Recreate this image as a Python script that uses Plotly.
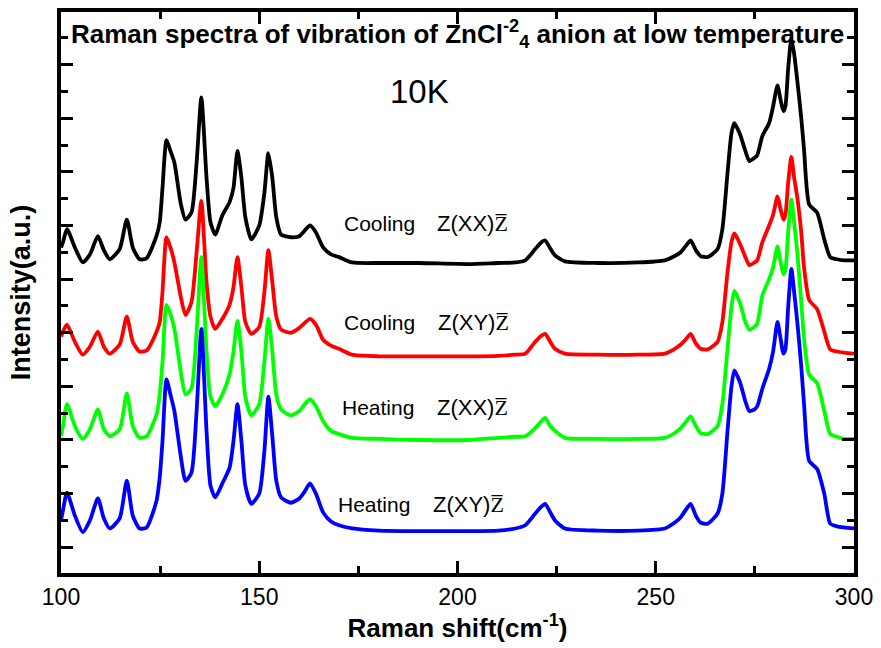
import plotly.graph_objects as go

# Raman shift (cm^-1)
raman_shift = [
    100.0, 100.5, 101.5, 103.5, 105.5, 107.3, 109.3, 110.8, 112.3, 114.8,
    116.6, 118.1, 119.8, 121.6, 124.1, 124.9, 125.6, 126.6, 127.6, 128.6,
    130.2, 131.4, 132.9, 134.2, 135.4, 136.7, 137.7, 138.9, 140.7, 142.5,
    143.5, 144.5, 145.5, 146.5, 148.0, 150.0, 151.3, 152.3, 153.3, 154.3,
    155.5, 158.0, 160.1, 161.3, 162.8, 164.3, 166.1, 168.1, 170.1, 173.4,
    180.2, 190.2, 202.8, 210.3, 214.6, 217.1, 219.6, 220.9, 222.1, 223.4,
    224.6, 227.1, 235.4, 245.5, 252.3, 254.8, 256.3, 257.5, 258.8, 260.1,
    261.3, 263.1, 265.6, 266.8, 268.1, 269.1, 269.8, 270.6, 271.4, 272.6,
    273.6, 274.9, 275.6, 276.9, 278.6, 279.6, 280.7, 281.4, 282.2, 282.7,
    283.4, 284.2, 284.9, 285.7, 286.7, 287.4, 288.7, 290.7, 292.5, 294.0,
    295.7, 297.5, 300.0,
]

# Intensities (a.u., stacked as plotted)
cooling_xx = [
    5.59, 5.69, 5.93, 5.59, 5.31, 5.46, 5.80, 5.54, 5.37, 5.56,
    6.11, 5.59, 5.37, 5.39, 5.81, 6.06, 6.70, 7.59, 7.39, 7.17,
    6.41, 6.11, 6.24, 7.17, 8.39, 6.89, 6.06, 5.83, 6.19, 6.43,
    6.70, 7.39, 6.89, 6.15, 5.74, 6.00, 6.61, 7.35, 6.89, 6.15,
    5.83, 5.78, 5.80, 5.89, 6.00, 5.87, 5.59, 5.46, 5.41, 5.31,
    5.30, 5.30, 5.28, 5.30, 5.31, 5.35, 5.56, 5.67, 5.72, 5.57,
    5.44, 5.33, 5.30, 5.31, 5.35, 5.43, 5.50, 5.61, 5.72, 5.54,
    5.43, 5.41, 5.56, 5.93, 6.98, 7.72, 7.91, 7.81, 7.67, 7.39,
    7.20, 7.26, 7.31, 7.67, 7.91, 8.22, 8.61, 8.37, 8.13, 8.22,
    8.93, 9.48, 9.20, 8.70, 8.00, 7.41, 6.39, 6.24, 5.74, 5.41,
    5.37, 5.35, 5.35,
]
cooling_xy = [
    3.93, 4.02, 4.15, 3.83, 3.59, 3.74, 4.02, 3.74, 3.61, 3.78,
    4.30, 3.83, 3.65, 3.67, 4.02, 4.20, 4.76, 5.78, 5.59, 5.31,
    4.67, 4.33, 4.57, 5.50, 6.46, 4.94, 4.30, 4.07, 4.26, 4.52,
    4.85, 5.41, 4.85, 4.20, 3.98, 4.11, 4.76, 5.54, 4.94, 4.30,
    4.06, 4.00, 4.09, 4.17, 4.26, 4.15, 3.87, 3.76, 3.70, 3.59,
    3.56, 3.56, 3.56, 3.57, 3.59, 3.61, 3.83, 3.93, 3.98, 3.83,
    3.70, 3.61, 3.59, 3.59, 3.61, 3.70, 3.78, 3.87, 3.98, 3.80,
    3.70, 3.69, 3.83, 4.20, 5.13, 5.69, 5.85, 5.76, 5.63, 5.41,
    5.26, 5.31, 5.35, 5.69, 6.00, 6.20, 6.54, 6.33, 6.11, 6.20,
    6.80, 7.28, 6.89, 6.52, 5.87, 5.22, 4.61, 4.44, 4.02, 3.69,
    3.65, 3.63, 3.61,
]
heating_xx = [
    2.07, 2.26, 2.67, 2.26, 2.02, 2.20, 2.57, 2.20, 2.07, 2.20,
    2.87, 2.26, 2.04, 2.07, 2.48, 2.85, 3.46, 4.52, 4.35, 4.07,
    3.28, 2.85, 2.96, 4.02, 5.41, 3.65, 2.81, 2.63, 2.85, 3.22,
    3.65, 4.22, 3.65, 2.81, 2.46, 2.67, 3.46, 4.26, 3.65, 2.85,
    2.57, 2.46, 2.54, 2.65, 2.76, 2.63, 2.35, 2.17, 2.11, 2.04,
    2.02, 2.00, 2.00, 2.04, 2.06, 2.07, 2.22, 2.33, 2.41, 2.26,
    2.17, 2.04, 2.02, 2.02, 2.04, 2.13, 2.22, 2.33, 2.44, 2.26,
    2.13, 2.11, 2.26, 2.67, 3.70, 4.48, 4.78, 4.67, 4.52, 4.20,
    4.06, 4.11, 4.17, 4.70, 5.00, 5.22, 5.61, 5.35, 5.09, 5.17,
    5.87, 6.48, 6.06, 5.50, 4.57, 3.89, 3.22, 3.06, 2.54, 2.11,
    2.06, 2.02, 2.02,
]
heating_xy = [
    0.50, 0.69, 1.02, 0.59, 0.28, 0.50, 0.91, 0.54, 0.35, 0.54,
    1.24, 0.59, 0.35, 0.37, 0.87, 1.30, 1.98, 3.13, 2.85, 2.54,
    1.70, 1.24, 1.39, 2.54, 4.07, 2.17, 1.15, 0.93, 1.19, 1.48,
    1.98, 2.67, 1.98, 1.15, 0.81, 1.00, 1.80, 2.81, 2.07, 1.24,
    0.93, 0.83, 0.91, 1.02, 1.19, 1.00, 0.65, 0.48, 0.41, 0.35,
    0.31, 0.30, 0.30, 0.31, 0.35, 0.41, 0.63, 0.74, 0.81, 0.65,
    0.50, 0.35, 0.31, 0.31, 0.35, 0.46, 0.56, 0.69, 0.81, 0.59,
    0.46, 0.44, 0.63, 1.00, 2.17, 3.00, 3.30, 3.19, 3.04, 2.72,
    2.54, 2.57, 2.63, 2.96, 3.33, 3.65, 4.20, 3.93, 3.61, 3.69,
    4.48, 5.19, 4.76, 4.20, 3.37, 2.67, 1.61, 1.46, 1.00, 0.44,
    0.39, 0.37, 0.35,
]

series_names = ["Cooling Z(XX)Z", "Cooling Z(XY)Z", "Heating Z(XX)Z", "Heating Z(XY)Z"]
series_values = [cooling_xx, cooling_xy, heating_xx, heating_xy]
series_colors = ["#000000", "#FF0000", "#00FF00", "#0000FF"]

# curve labels
label_process = ["Cooling", "Cooling", "Heating", "Heating"]
label_geometry = ["Z(XX)", "Z(XY)", "Z(XX)", "Z(XY)"]
label_y = [6.03, 4.19, 2.60, 0.80]
label_x1 = [170.9, 170.9, 170.4, 169.4]
label_x2 = [194.4, 194.6, 194.2, 193.2]

FONT = "Liberation Sans, Arial"

fig = go.Figure()
for name, vals, col in zip(series_names, series_values, series_colors):
    fig.add_trace(go.Scatter(
        x=raman_shift, y=vals, mode="lines", name=name,
        line=dict(color=col, width=3.8, shape="spline", smoothing=0.6),
        showlegend=False,
    ))

annotations = []
for proc, geo, yy, x1, x2 in zip(label_process, label_geometry, label_y, label_x1, label_x2):
    annotations.append(dict(x=x1, y=yy, xref="x", yref="y", text=proc,
                            showarrow=False, xanchor="left", yanchor="middle",
                            font=dict(family=FONT, size=21, color="#000")))
    annotations.append(dict(x=x2, y=yy, xref="x", yref="y",
                            text=geo + "<span style='font-family:Liberation Serif'>Z\u0305</span>",
                            showarrow=False, xanchor="left", yanchor="middle",
                            font=dict(family=FONT, size=22, color="#000")))

annotations.append(dict(x=190.5, y=8.5, xref="x", yref="y", text="10K", showarrow=False,
                        xanchor="center", yanchor="middle",
                        font=dict(family=FONT, size=33, color="#000")))
annotations.append(dict(x=0.5, y=1.0, xref="paper", yref="paper",
                        text="<b>Raman spectra of vibration of ZnCl<sup>-2</sup><sub>4</sub> anion at low temperature</b>",
                        showarrow=False, xanchor="center", yanchor="top", yshift=-2,
                        font=dict(family=FONT, size=26, color="#000")))

fig.update_layout(
    width=881, height=648,
    margin=dict(l=61, r=24, t=8, b=75),
    plot_bgcolor="white", paper_bgcolor="white",
    annotations=annotations,
    xaxis=dict(
        range=[100, 300], tick0=100, dtick=50, ticks="inside", ticklen=12, tickwidth=3,
        tickcolor="#000", showline=True, linewidth=4, linecolor="#000", mirror="ticks",
        showgrid=False, zeroline=False,
        minor=dict(dtick=25, ticks="inside", ticklen=7, tickwidth=3, tickcolor="#000", showgrid=False),
        tickfont=dict(family=FONT, size=23, color="#000"),
        title=dict(text="<b>Raman shift(cm<sup>-1</sup>)</b>", font=dict(family=FONT, size=26, color="#000"),
                   standoff=4),
    ),
    yaxis=dict(
        range=[-0.48, 9.98], tick0=0, dtick=1, ticks="inside", ticklen=12, tickwidth=3,
        tickcolor="#000", showline=True, linewidth=4, linecolor="#000", mirror="ticks",
        showgrid=False, zeroline=False, showticklabels=False,
        minor=dict(dtick=0.5, ticks="inside", ticklen=7, tickwidth=3, tickcolor="#000", showgrid=False),
        title=dict(text="<b>Intensity(a.u.)</b>", font=dict(family=FONT, size=27, color="#000"),
                   standoff=20),
    ),
)

fig.write_html("out.html")
